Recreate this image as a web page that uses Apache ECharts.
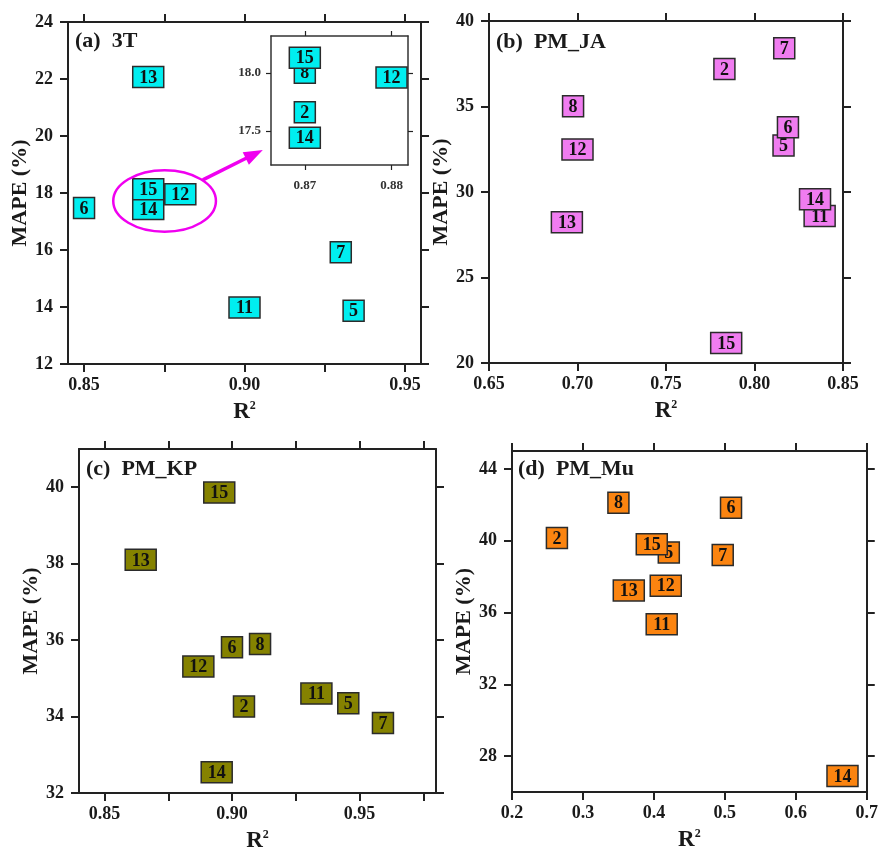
<!DOCTYPE html>
<html>
<head>
<meta charset="utf-8">
<script src="https://cdn.jsdelivr.net/npm/echarts@6/dist/echarts.min.js"></script>
<style>
  html, body { margin: 0; padding: 0; background: #fff; }
  #chart { width: 881px; height: 855px; }
</style>
</head>
<body>
<div id="chart"></div>
<script>
// Model ids shown inside every box
const modelIds = [2, 5, 6, 7, 8, 11, 12, 13, 14, 15];

// (a) 3T
const r2_3T   = [0.870, 0.934, 0.850, 0.930, 0.870, 0.900, 0.880, 0.870, 0.870, 0.870];
const mape_3T = [17.66, 13.87, 17.47, 15.92, 18.00, 13.98, 17.96, 22.07, 17.44, 18.13];

// (b) PM_JA
const r2_JA   = [0.783, 0.8164, 0.8189, 0.8168, 0.6975, 0.8368, 0.700, 0.694, 0.8342, 0.784];
const mape_JA = [37.19, 32.72, 33.79, 38.40, 35.02, 28.60, 32.49, 28.23, 29.58, 21.17];

// (c) PM_KP
const r2_KP   = [0.9047, 0.9456, 0.900, 0.9592, 0.911, 0.9331, 0.8868, 0.8642, 0.894, 0.895];
const mape_KP = [34.26, 34.35, 35.81, 33.83, 35.90, 34.60, 35.31, 38.10, 32.54, 39.86];

// (d) PM_Mu
const r2_Mu   = [0.2633, 0.421, 0.5087, 0.497, 0.350, 0.411, 0.4167, 0.3646, 0.6658, 0.397];
const mape_Mu = [40.15, 39.35, 41.84, 39.20, 42.12, 35.35, 37.49, 37.23, 26.89, 39.81];

// Tick positions and labels
const ticksX_3T = [0.85, 0.875, 0.90, 0.925, 0.95];
const labelsX_3T = [0.85, 0.90, 0.95];
const ticksY_3T = [12, 14, 16, 18, 20, 22, 24];
const ticksX_JA = [0.65, 0.70, 0.75, 0.80, 0.85];
const ticksY_JA = [20, 25, 30, 35, 40];
const ticksX_KP = [0.85, 0.875, 0.90, 0.925, 0.95, 0.975];
const labelsX_KP = [0.85, 0.90, 0.95];
const ticksY_KP = [32, 34, 36, 38, 40];
const ticksX_Mu = [0.2, 0.3, 0.4, 0.5, 0.6, 0.7];
const ticksY_Mu = [28, 32, 36, 40, 44];
const ticksX_inset = [0.87, 0.88];
const ticksY_inset = [17.5, 18.0];

const FONT = '"Liberation Serif", "Times New Roman", serif';
const INK = '#1a1a1a';

const panels = [
  { title: '(a)  3T',    x: r2_3T, y: mape_3T, color: '#00eef0',
    grid: { left: 68, top: 22, width: 353, height: 342 },
    xr: [0.845, 0.955], yr: [12, 24], xt: ticksX_3T, xl: labelsX_3T, yt: ticksY_3T, xd: 2, yd: 0,
    titlePos: [75, 43] },
  { title: '(b)  PM_JA', x: r2_JA, y: mape_JA, color: '#f07cf0',
    grid: { left: 489, top: 21, width: 354, height: 342 },
    xr: [0.65, 0.85], yr: [20, 40], xt: ticksX_JA, xl: ticksX_JA, yt: ticksY_JA, xd: 2, yd: 0,
    titlePos: [496, 44] },
  { title: '(c)  PM_KP', x: r2_KP, y: mape_KP, color: '#858200',
    grid: { left: 79, top: 449, width: 357, height: 344 },
    xr: [0.84, 0.98], yr: [32, 41], xt: ticksX_KP, xl: labelsX_KP, yt: ticksY_KP, xd: 2, yd: 0,
    titlePos: [86, 471] },
  { title: '(d)  PM_Mu', x: r2_Mu, y: mape_Mu, color: '#fb8410',
    grid: { left: 512, top: 451, width: 356, height: 341 },
    xr: [0.2, 0.7], yr: [26, 45], xt: ticksX_Mu, xl: ticksX_Mu, yt: ticksY_Mu, xd: 1, yd: 0,
    titlePos: [518, 471] }
];

const inset = {
  grid: { left: 271, top: 36, width: 137, height: 129 },
  xr: [0.8661, 0.8819], yr: [17.205, 18.317]
};

const axisLine = { show: true, lineStyle: { color: '#222', width: 2 } };

function makeAxisPair(kind, idx, p, labelled, opt) {
  const isX = kind === 'x';
  const min = isX ? p.xr[0] : p.yr[0];
  const max = isX ? p.xr[1] : p.yr[1];
  const ticks = isX ? p.xt : p.yt;
  const labs = isX ? p.xl : p.yt;
  const dec = isX ? p.xd : p.yd;
  const small = opt && opt.small;
  const base = {
    type: 'value', gridIndex: idx, min: min, max: max, scale: true,
    splitLine: { show: false },
    axisLine: small ? { show: true, lineStyle: { color: '#333', width: 1.5 } } : axisLine,
    axisTick: { show: true, inside: false, length: small ? 5 : 8,
                lineStyle: { color: '#222', width: small ? 1.2 : 2 }, customValues: ticks },
    z: small ? 21 : 0
  };
  const main = Object.assign({}, base, {
    position: isX ? 'bottom' : 'left',
    axisLabel: {
      show: true, customValues: labs, margin: small ? (isX ? 14 : 10) : (isX ? 12 : 15),
      formatter: v => v.toFixed(dec),
      color: small ? '#333' : INK, fontFamily: FONT, fontWeight: 'bold', fontSize: small ? 13 : 18
    }
  });
  if (labelled) {
    if (isX) {
      Object.assign(main, {
        name: '{r|R}{s|2}', nameLocation: 'middle', nameGap: 36,
        nameTextStyle: { rich: {
          r: { fontFamily: FONT, fontWeight: 'bold', fontSize: 23, color: INK, lineHeight: 24 },
          s: { fontFamily: FONT, fontWeight: 'bold', fontSize: 12, color: INK, verticalAlign: 'top', lineHeight: 12 }
        } }
      });
    } else {
      Object.assign(main, {
        name: 'MAPE (%)', nameLocation: 'middle', nameGap: 33,
        nameTextStyle: { fontFamily: FONT, fontWeight: 'bold', fontSize: 22, color: INK }
      });
    }
  }
  const other = Object.assign({}, base, {
    position: isX ? 'top' : 'right',
    axisLabel: { show: false }
  });
  return [main, other];
}

function boxRenderer(color) {
  return function (params, api) {
    const pt = api.coord([api.value(0), api.value(1)]);
    const label = String(api.value(2));
    const w = label.length > 1 ? 31 : 21, h = 21;
    return {
      type: 'group',
      children: [
        { type: 'rect',
          shape: { x: pt[0] - w / 2, y: pt[1] - h / 2, width: w, height: h },
          style: { fill: color, stroke: '#2b2b2b', lineWidth: 1.5 } },
        { type: 'text', x: pt[0], y: pt[1] + 1,
          style: { text: label, fill: '#111', font: 'bold 18px ' + FONT,
                   align: 'center', verticalAlign: 'middle' } }
      ]
    };
  };
}

const grids = [], xAxes = [], yAxes = [], series = [], titles = [];
panels.forEach((p, i) => {
  grids.push(Object.assign({ containLabel: false }, p.grid));
  xAxes.push(...makeAxisPair('x', i, p, true));
  yAxes.push(...makeAxisPair('y', i, p, true));
  series.push({
    type: 'custom', xAxisIndex: i * 2, yAxisIndex: i * 2, z: 2,
    renderItem: boxRenderer(p.color), clip: false,
    data: modelIds.map((id, k) => [p.x[k], p.y[k], id]),
    encode: { x: 0, y: 1 }
  });
  titles.push({
    text: p.title, left: p.titlePos[0], top: p.titlePos[1] - 13, padding: 0,
    textStyle: { fontFamily: FONT, fontWeight: 'bold', fontSize: 22, color: INK }
  });
});

// Zoomed inset of the crowded cluster in panel (a)
const insetP = { xr: inset.xr, yr: inset.yr, xt: ticksX_inset, xl: ticksX_inset, yt: ticksY_inset, xd: 2, yd: 1 };
grids.push(Object.assign({ show: true, backgroundColor: '#fff', borderWidth: 0, z: 20 }, inset.grid));
xAxes.push(...makeAxisPair('x', 4, insetP, false, { small: true }));
yAxes.push(...makeAxisPair('y', 4, insetP, false, { small: true }));
series.push({
  type: 'custom', xAxisIndex: 8, yAxisIndex: 8, z: 22,
  renderItem: boxRenderer(panels[0].color), clip: true,
  data: modelIds.map((id, k) => [r2_3T[k], mape_3T[k], id]),
  encode: { x: 0, y: 1 }
});

const chart = echarts.init(document.getElementById('chart'), null, { renderer: 'canvas' });
chart.setOption({
  backgroundColor: '#fff',
  animation: false,
  title: titles,
  grid: grids,
  xAxis: xAxes,
  yAxis: yAxes,
  series: series
});

// Highlight ellipse around the cluster and arrow pointing to the inset
const ring = { cx: 0.8751, cy: 17.72, rx: 0.016, ry: 1.08 };
const arrowFrom = [0.887, 18.46], arrowTo = [0.9057, 19.51];
const c = chart.convertToPixel({ gridIndex: 0 }, [ring.cx, ring.cy]);
const e = chart.convertToPixel({ gridIndex: 0 }, [ring.cx + ring.rx, ring.cy + ring.ry]);
const a0 = chart.convertToPixel({ gridIndex: 0 }, arrowFrom);
const a1 = chart.convertToPixel({ gridIndex: 0 }, arrowTo);
const ang = Math.atan2(a1[1] - a0[1], a1[0] - a0[0]);
const hl = 19, hw = 7;
const bx = a1[0] - hl * Math.cos(ang), by = a1[1] - hl * Math.sin(ang);
const nx = -Math.sin(ang), ny = Math.cos(ang);
chart.setOption({
  graphic: [
    { type: 'ellipse', z: 30,
      shape: { cx: c[0], cy: c[1], rx: Math.abs(e[0] - c[0]), ry: Math.abs(e[1] - c[1]) },
      style: { fill: 'none', stroke: '#f000f0', lineWidth: 2.5 } },
    { type: 'line', z: 30,
      shape: { x1: a0[0], y1: a0[1], x2: bx + 2 * Math.cos(ang), y2: by + 2 * Math.sin(ang) },
      style: { stroke: '#f000f0', lineWidth: 3.5 } },
    { type: 'polygon', z: 30,
      shape: { points: [[a1[0], a1[1]], [bx + nx * hw, by + ny * hw], [bx - nx * hw, by - ny * hw]] },
      style: { fill: '#f000f0' } }
  ]
});
</script>
</body>
</html>
